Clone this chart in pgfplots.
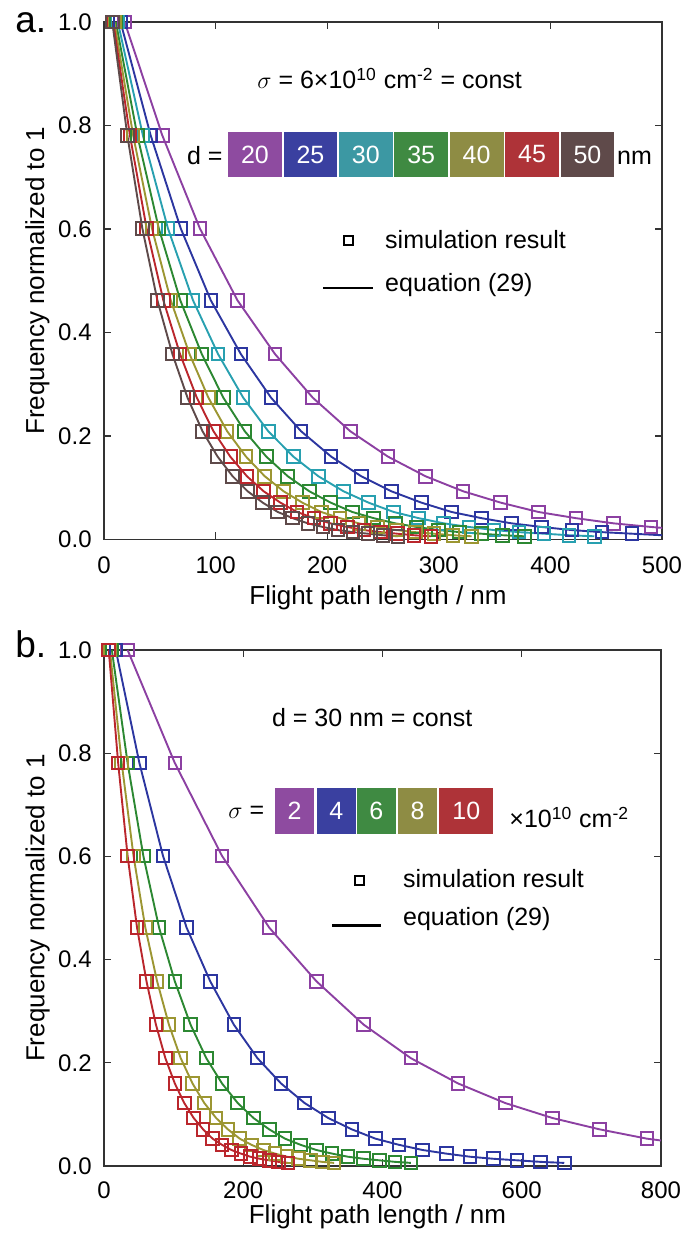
\documentclass[border=0pt]{standalone}
\usepackage{pgfplots}
\pgfplotsset{compat=1.18}
\usepackage{pgfplotstable}
\usepackage{fontspec}
\setmainfont{Liberation Sans}

\definecolor{cP}{RGB}{140,64,162}
\definecolor{cB}{RGB}{44,54,160}
\definecolor{cC}{RGB}{40,160,176}
\definecolor{cG}{RGB}{44,136,50}
\definecolor{cO}{RGB}{156,150,50}
\definecolor{cR}{RGB}{186,38,44}
\definecolor{cK}{RGB}{94,74,74}
\definecolor{bP}{RGB}{142,75,160}
\definecolor{bB}{RGB}{58,64,160}
\definecolor{bC}{RGB}{60,152,163}
\definecolor{bG}{RGB}{63,138,66}
\definecolor{bO}{RGB}{142,140,68}
\definecolor{bR}{RGB}{174,51,56}
\definecolor{bK}{RGB}{95,74,74}

\pgfplotstableread{
y x20 x25 x30 x35 x40 x45 x50
1.000 18.5 14.83 12.36 10.59 9.27 8.24 7.41
0.781 52.2 41.79 34.83 29.85 26.12 23.22 20.89
0.601 85.9 68.75 57.30 49.11 42.97 38.20 34.37
0.462 119.6 95.71 79.77 68.37 59.82 53.18 47.85
0.358 153.3 122.67 102.24 87.63 76.67 68.16 61.33
0.274 187.0 149.63 124.71 106.89 93.52 83.14 74.81
0.209 220.7 176.59 147.18 126.15 110.37 98.12 88.29
0.160 254.4 203.55 169.65 145.41 127.22 113.10 101.77
0.122 288.1 230.51 192.12 164.67 144.07 128.08 115.25
0.093 321.8 257.47 214.59 183.93 160.92 143.06 128.73
0.071 355.5 284.43 237.06 203.19 177.77 158.04 142.21
0.053 389.2 311.39 259.53 222.45 194.62 173.02 155.69
0.041 422.9 338.35 282.00 241.71 211.47 188.00 169.17
0.031 456.6 365.31 304.47 260.97 228.32 202.98 182.65
0.024 490.3 392.27 326.94 280.23 245.17 217.96 196.13
0.018 524.0 419.23 349.41 299.49 262.02 232.94 209.61
0.014 557.7 446.19 371.88 318.75 278.87 247.92 223.09
0.011 591.4 473.15 394.35 338.01 295.72 262.90 236.57
0.008 625.1 500.11 416.82 357.27 312.57 277.88 250.05
0.006 658.8 527.07 439.29 376.53 329.42 292.86 263.53
}\tabA

\pgfplotstableread{
y s2 s4 s6 s8 s10
1.000 33.9 16.95 11.3 8.48 6.78
0.781 101.7 50.85 33.9 25.43 20.34
0.601 169.5 84.75 56.5 42.38 33.90
0.462 237.3 118.65 79.1 59.33 47.46
0.358 305.1 152.55 101.7 76.28 61.02
0.274 372.9 186.45 124.3 93.23 74.58
0.209 440.7 220.35 146.9 110.18 88.14
0.160 508.5 254.25 169.5 127.13 101.70
0.122 576.3 288.15 192.1 144.08 115.26
0.093 644.1 322.05 214.7 161.03 128.82
0.071 711.9 355.95 237.3 177.98 142.38
0.053 779.7 389.85 259.9 194.93 155.94
0.041 847.5 423.75 282.5 211.88 169.50
0.031 915.3 457.65 305.1 228.83 183.06
0.024 983.1 491.55 327.7 245.78 196.62
0.018 1050.9 525.45 350.3 262.73 210.18
0.014 1118.7 559.35 372.9 279.68 223.74
0.011 1186.5 593.25 395.5 296.63 237.30
0.008 1254.3 627.15 418.1 313.58 250.86
0.006 1322.1 661.05 440.7 330.53 264.42
}\tabB

\pgfplotsset{
  myaxis/.style={
    scale only axis,
    ymin=0, ymax=1,
    ytick={0,0.2,0.4,0.6,0.8,1.0},
    scaled ticks=false,
    tick align=inside, major tick length=3.5pt,
    axis line style={draw=black!80, line width=0.6pt},
    every tick/.style={black!80, line width=0.6pt},
    /pgf/number format/assume math mode=true,
    ticklabel style={font=\fontsize{12}{14}\selectfont},
    xticklabel style={anchor=base, yshift=-17.3pt},
    yticklabel style={anchor=east, inner sep=0pt, xshift=-6pt,
      /pgf/number format/fixed, /pgf/number format/fixed zerofill, /pgf/number format/precision=1},
    label style={font=\fontsize{13}{15}\selectfont},
    xlabel={Flight path length / nm},
    ylabel={Frequency normalized to 1},
    xlabel style={at={(axis description cs:0.5,0)}, anchor=base, yshift=-32.8pt, xshift=-2.5pt, inner sep=0pt},
    ylabel style={at={(axis description cs:-0.1416,0.5)}, anchor=north, inner sep=0pt},
    every axis plot/.append style={mark=square, mark size=3.15pt, line width=0.95pt, mark options={solid, line width=1pt}},
    legend cell align=left,
  },
  legmarkA/.style={legend image code/.code={\draw[black, line width=1.3pt, mark=square, mark size=2.3pt] plot coordinates {(12.5pt,0.75pt)};}},
  leglineA/.style={legend image code/.code={\draw[black, line width=1.1pt] (0pt,-1.75pt) -- (25pt,-1.75pt);}},
  legmarkB/.style={legend image code/.code={\draw[black, line width=1.3pt, mark=square, mark size=2.3pt] plot coordinates {(13.8pt,0pt)};}},
  leglineB/.style={legend image code/.code={\draw[black, line width=1.1pt] (0pt,-3.5pt) -- (24.65pt,-3.5pt);}},
}

\begin{document}
\begin{tikzpicture}
\useasboundingbox (0,0) rectangle (342pt,623pt);
% ---------- panel a ----------
\begin{axis}[myaxis,
  at={(52pt,353.3pt)}, anchor=south west,
  width=279pt, height=258.7pt,
  xmin=0, xmax=500, xtick={0,100,200,300,400,500},
  legend style={at={(rel axis cs:0.390,0.5974)}, anchor=north west, draw=none, fill=none, inner sep=0pt, row sep=9.8pt, column sep=5.5pt,
    nodes={inner sep=0pt, text height=9pt, text depth=2.5pt, font=\fontsize{12.5}{14}\selectfont}},
]
\addplot[cP, forget plot] table[x=x20, y=y] {\tabA};
\addplot[cB, forget plot] table[x=x25, y=y] {\tabA};
\addplot[cC, forget plot] table[x=x30, y=y] {\tabA};
\addplot[cG, forget plot] table[x=x35, y=y] {\tabA};
\addplot[cO, forget plot] table[x=x40, y=y] {\tabA};
\addplot[cR, forget plot] table[x=x45, y=y] {\tabA};
\addplot[cK, forget plot] table[x=x50, y=y] {\tabA};
\addlegendimage{legmarkA}
\addlegendentry{simulation result}
\addlegendimage{leglineA}
\addlegendentry{equation (29)}
\end{axis}
% ---------- panel b ----------
\begin{axis}[myaxis,
  at={(52pt,40pt)}, anchor=south west,
  width=278.5pt, height=258pt,
  xmin=0, xmax=800, xtick={0,200,400,600,800},
  xticklabel style={yshift=1pt},
  xlabel style={yshift=4pt},
  legend style={at={(rel axis cs:0.407,0.5762)}, anchor=north west, draw=none, fill=none, inner sep=0pt, row sep=7.5pt, column sep=10.3pt,
    nodes={inner sep=0pt, text height=9pt, text depth=2.5pt, font=\fontsize{12.5}{14}\selectfont}},
]
\addplot[cP, forget plot] table[x=s2, y=y] {\tabB};
\addplot[cB, forget plot] table[x=s4, y=y] {\tabB};
\addplot[cG, forget plot] table[x=s6, y=y] {\tabB};
\addplot[cO, forget plot] table[x=s8, y=y] {\tabB};
\addplot[cR, forget plot] table[x=s10, y=y] {\tabB};
\addlegendimage{legmarkB}
\addlegendentry{simulation result}
\addlegendimage{leglineB}
\addlegendentry{equation (29)}
\end{axis}
% ---------- panel labels ----------
\node[anchor=base west, inner sep=0pt, font=\fontsize{18.5}{20}\selectfont] at (7.5pt,606.85pt) {a.};
\node[anchor=base west, inner sep=0pt, font=\fontsize{18.5}{20}\selectfont] at (7.5pt,294pt) {b.};
% ---------- annotations panel a ----------
\begin{scope}[font=\fontsize{12.5}{14}\selectfont]
\node[anchor=base west, inner sep=0pt] at (128.5pt,578.5pt) {\(\sigma\) = 6×10\textsuperscript{10} cm\textsuperscript{-2} = const};
\node[anchor=base east, inner sep=0pt] at (111.5pt,540.5pt) {d =};
\node[anchor=base west, inner sep=0pt] at (308.4pt,540.5pt) {nm};
\foreach \c/\t [count=\k from 0] in {bP/20,bB/25,bC/30,bG/35,bO/40,bR/45,bK/50}{
  \fill[\c] ({113.65pt+\k*27.7pt+0.4pt},534.35pt) rectangle ({113.65pt+(\k+1)*27.7pt-0.4pt},557.15pt);
  \node[white, inner sep=0pt] at ({113.65pt+\k*27.7pt+13.85pt},545.75pt) {\t};
}
% ---------- annotations panel b ----------
\node[anchor=base west, inner sep=0pt] at (135.85pt,259.65pt) {d = 30 nm = const};
\node[anchor=base west, inner sep=0pt] at (114pt,213.5pt) {\(\sigma\) =};
\foreach \c/\t/\xa/\xb in {bP/2/137.5/157.0,bB/4/158.35/177.85,bG/6/178.35/197.85,bO/8/198.85/218.65,bR/10/219.65/246.65}{
  \fill[\c] (\xa pt,206pt) rectangle (\xb pt,228.85pt);
  \node[white, inner sep=0pt] at ({(\xa pt+\xb pt)/2},217.4pt) {\t};
}
\node[anchor=base west, inner sep=0pt] at (254.5pt,209pt) {×10\textsuperscript{10} cm\textsuperscript{-2}};
\end{scope}
\end{tikzpicture}
\end{document}
